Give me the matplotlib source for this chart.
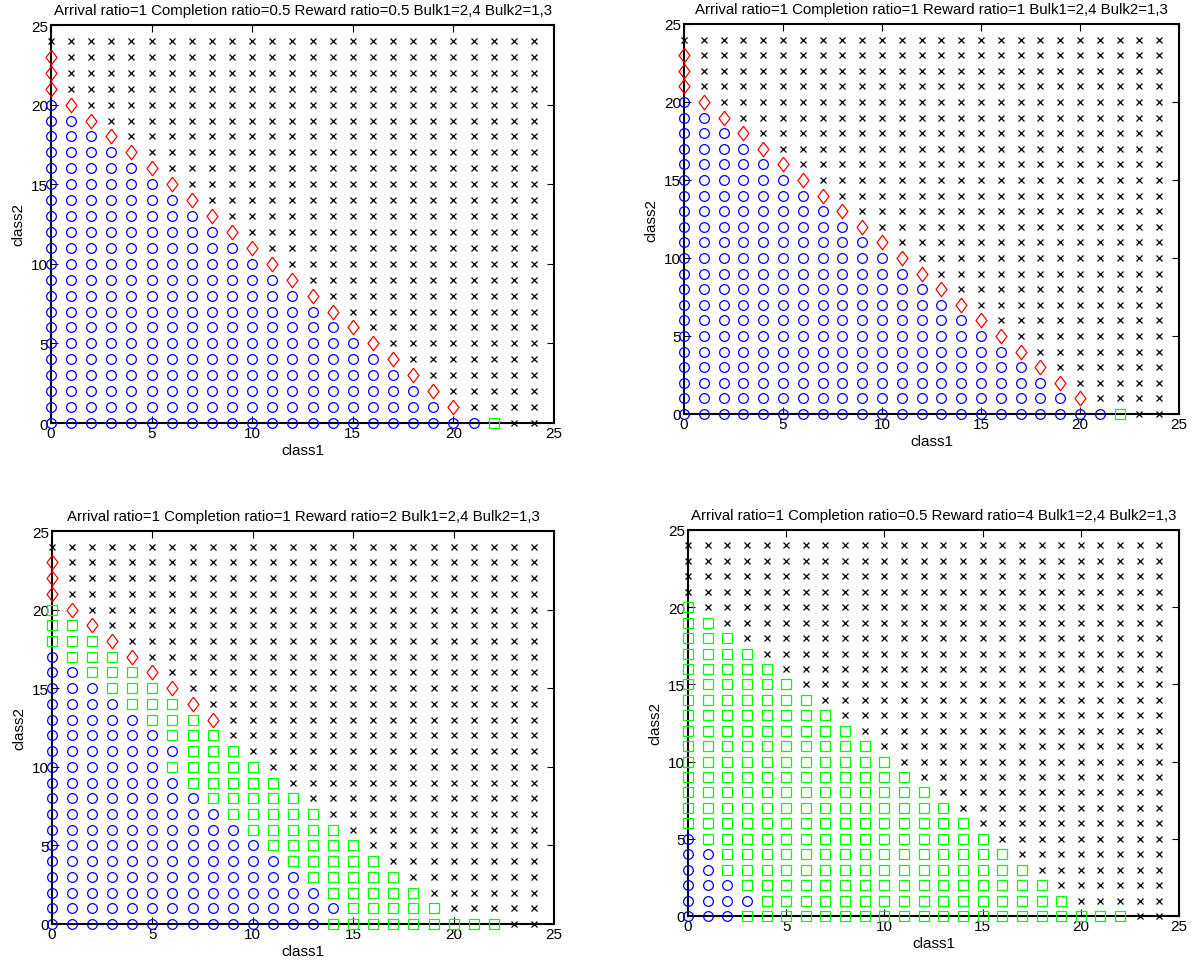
import matplotlib
matplotlib.use("Agg")
import matplotlib.pyplot as plt

plt.rcParams['font.family'] = ['Liberation Sans', 'DejaVu Sans']

# o = blue circle, d = red diamond, s = green square, x = black cross
# one string per row, class2 = 0 first; characters go along class1 = 0..24
grid_a = [
    "o" * 22 + "s" + "x" * 2,
    "o" * 20 + "d" + "x" * 4,
    "o" * 19 + "d" + "x" * 5,
    "o" * 18 + "d" + "x" * 6,
    "o" * 17 + "d" + "x" * 7,
    "o" * 16 + "d" + "x" * 8,
    "o" * 15 + "d" + "x" * 9,
    "o" * 14 + "d" + "x" * 10,
    "o" * 13 + "d" + "x" * 11,
    "o" * 12 + "d" + "x" * 12,
    "o" * 11 + "d" + "x" * 13,
    "o" * 10 + "d" + "x" * 14,
    "o" * 9 + "d" + "x" * 15,
    "o" * 8 + "d" + "x" * 16,
    "o" * 7 + "d" + "x" * 17,
    "o" * 6 + "d" + "x" * 18,
    "o" * 5 + "d" + "x" * 19,
    "o" * 4 + "d" + "x" * 20,
    "o" * 3 + "d" + "x" * 21,
    "o" * 2 + "d" + "x" * 22,
    "o" * 1 + "d" + "x" * 23,
    "d" + "x" * 24,
    "d" + "x" * 24,
    "d" + "x" * 24,
    "x" * 25,
]
grid_b = list(grid_a)

grid_c = [
    "o" * 14 + "s" * 9 + "x" * 2,
    "o" * 15 + "s" * 5 + "x" * 5,
    "o" * 14 + "s" * 5 + "x" * 6,
    "o" * 13 + "s" * 5 + "x" * 7,
    "o" * 12 + "s" * 5 + "x" * 8,
    "o" * 11 + "s" * 5 + "x" * 9,
    "o" * 10 + "s" * 5 + "x" * 10,
    "o" * 9 + "s" * 5 + "x" * 11,
    "o" * 8 + "s" * 5 + "x" * 12,
    "o" * 7 + "s" * 5 + "x" * 13,
    "o" * 6 + "s" * 5 + "x" * 14,
    "o" * 7 + "s" * 3 + "x" * 15,
    "o" * 6 + "s" * 3 + "x" * 16,
    "o" * 5 + "s" * 3 + "d" + "x" * 16,
    "o" * 4 + "s" * 3 + "d" + "x" * 17,
    "o" * 3 + "s" * 3 + "d" + "x" * 18,
    "o" * 2 + "s" * 3 + "d" + "x" * 19,
    "o" * 1 + "s" * 3 + "d" + "x" * 20,
    "s" * 3 + "d" + "x" * 21,
    "s" * 2 + "d" + "x" * 22,
    "s" * 1 + "d" + "x" * 23,
    "d" + "x" * 24,
    "d" + "x" * 24,
    "d" + "x" * 24,
    "x" * 25,
]

grid_d = [
    "o" * 3 + "s" * 20 + "x" * 2,
    "o" * 4 + "s" * 16 + "x" * 5,
    "o" * 3 + "s" * 16 + "x" * 6,
    "o" * 2 + "s" * 16 + "x" * 7,
    "o" * 2 + "s" * 15 + "x" * 8,
    "o" * 1 + "s" * 15 + "x" * 9,
    "s" * 15 + "x" * 10,
    "s" * 14 + "x" * 11,
    "s" * 13 + "x" * 12,
    "s" * 12 + "x" * 13,
    "s" * 11 + "x" * 14,
    "s" * 10 + "x" * 15,
    "s" * 9 + "x" * 16,
    "s" * 8 + "x" * 17,
    "s" * 7 + "x" * 18,
    "s" * 6 + "x" * 19,
    "s" * 5 + "x" * 20,
    "s" * 4 + "x" * 21,
    "s" * 3 + "x" * 22,
    "s" * 2 + "x" * 23,
    "s" * 1 + "x" * 24,
    "x" * 25,
    "x" * 25,
    "x" * 25,
    "x" * 25,
]

titles = [
    "Arrival ratio=1 Completion ratio=0.5 Reward ratio=0.5 Bulk1=2,4 Bulk2=1,3",
    "Arrival ratio=1 Completion ratio=1 Reward ratio=1 Bulk1=2,4 Bulk2=1,3",
    "Arrival ratio=1 Completion ratio=1 Reward ratio=2 Bulk1=2,4 Bulk2=1,3",
    "Arrival ratio=1 Completion ratio=0.5 Reward ratio=4 Bulk1=2,4 Bulk2=1,3",
]
grids = [grid_a, grid_b, grid_c, grid_d]

# matlab style diamond, a bit taller than wide
diamond = [(0, 1), (0.75, 0), (0, -1), (-0.75, 0), (0, 1)]

styles = {
    'o': dict(marker='o', color='#0000ff', ms=7),
    'd': dict(marker=diamond, color='#ff0000', ms=10.5),
    's': dict(marker='s', color='#00ff00', ms=7),
    'x': dict(marker='x', color='black', ms=4),
}

W, H = 1194, 970
boxes = [
    (51, 26, 554, 424),
    (684, 25, 1179, 415),
    (52, 532, 554, 925),
    (688, 531, 1179, 917),
]

fig = plt.figure(figsize=(W / 100, H / 100), dpi=100)

for k in range(4):
    x0, y0, x1, y1 = boxes[k]
    ax = fig.add_axes([x0 / W, 1 - y1 / H, (x1 - x0) / W, (y1 - y0) / H])
    grid = grids[k]
    for code in ['x', 'o', 'd', 's']:
        xs, ys = [], []
        for j, row in enumerate(grid):
            for i, c in enumerate(row):
                if c == code:
                    xs.append(i)
                    ys.append(j)
        st = styles[code]
        ax.plot(xs, ys, linestyle='none', marker=st['marker'], markersize=st['ms'],
                markerfacecolor='none', markeredgecolor=st['color'],
                markeredgewidth=0.9, clip_on=False, zorder=3)
    ax.set_xlim(0, 25)
    ax.set_ylim(0, 25)
    ax.set_xticks([0, 5, 10, 15, 20, 25])
    ax.set_yticks([0, 5, 10, 15, 20, 25])
    ax.tick_params(direction='in', top=True, right=True, length=5, width=0.8,
                   labelsize=11, pad=2)
    for sp in ax.spines.values():
        sp.set_linewidth(1.5)
        sp.set_zorder(2)
    ax.set_title(titles[k], fontsize=10.8, pad=8)
    ax.set_xlabel("class1", fontsize=11, labelpad=2)
    ax.set_ylabel("class2", fontsize=11, labelpad=4)

fig.savefig("out.png", dpi=100)
